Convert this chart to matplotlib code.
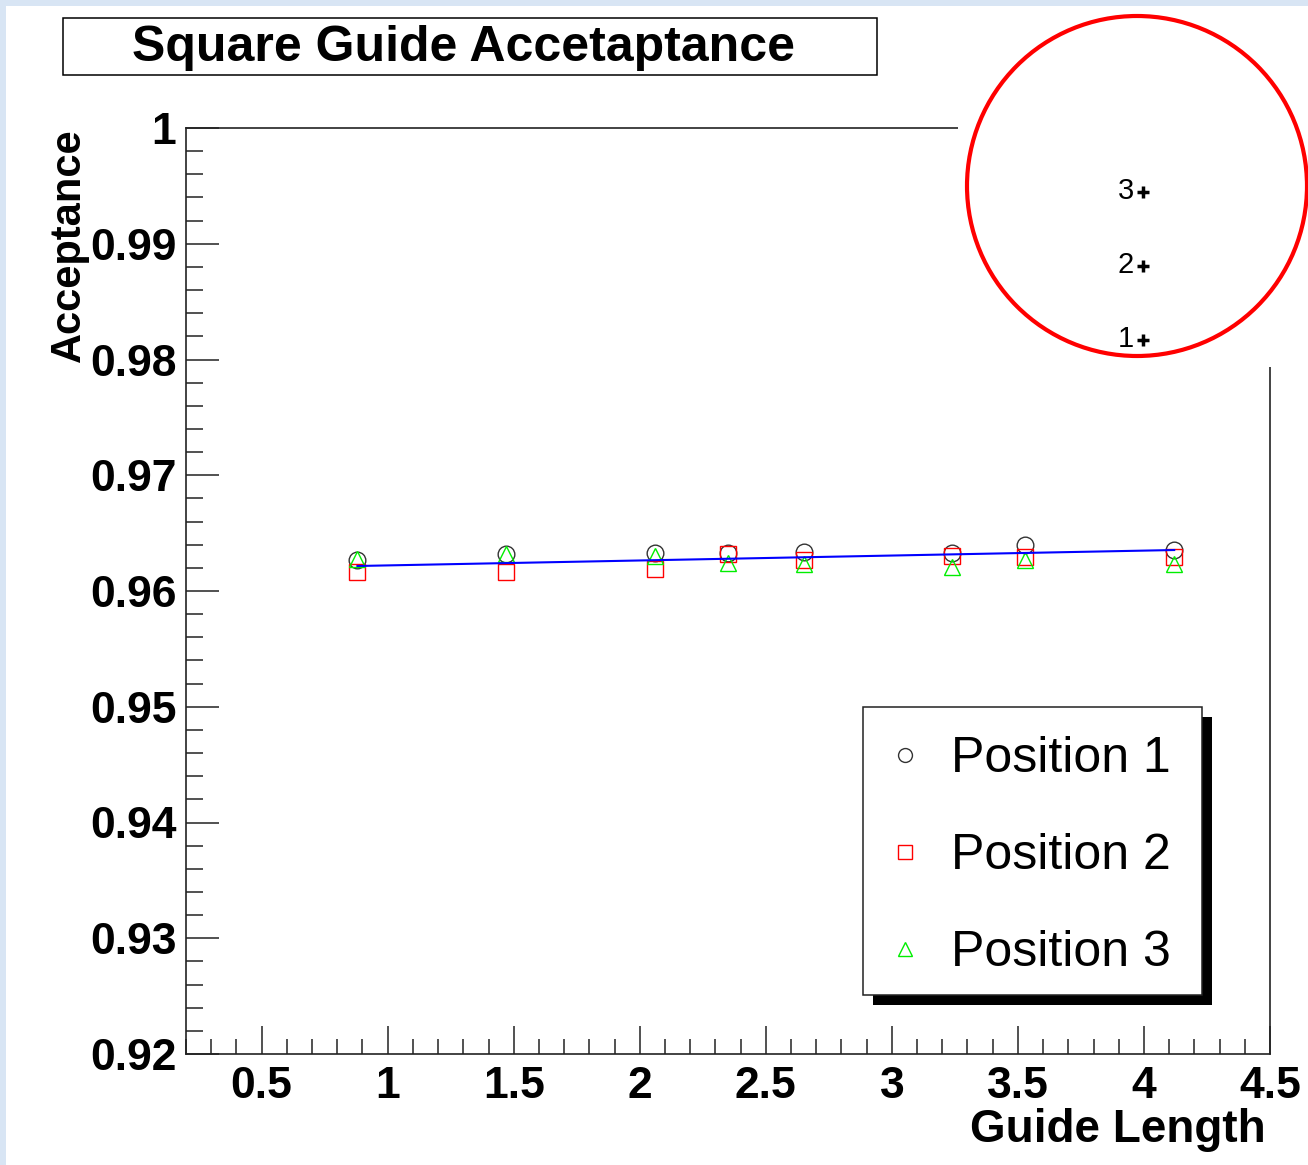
import matplotlib
matplotlib.use("Agg")
import matplotlib.pyplot as plt
from matplotlib.patches import Rectangle, Ellipse
from matplotlib.lines import Line2D
from matplotlib.ticker import MultipleLocator, FormatStrFormatter

plt.rcParams['font.family'] = ['Liberation Sans', 'DejaVu Sans']

# data
guide_length = [0.88, 1.47, 2.06, 2.35, 2.65, 3.24, 3.53, 4.12]
pos1 = [0.9627, 0.9632, 0.9633, 0.9633, 0.9634, 0.9633, 0.9640, 0.9635]
pos2 = [0.9616, 0.9616, 0.9619, 0.9632, 0.9627, 0.9630, 0.9629, 0.9629]
pos3 = [0.9628, 0.9632, 0.9630, 0.9624, 0.9623, 0.9621, 0.9627, 0.9623]
fit_x = [0.88, 4.12]
fit_y = [0.96216, 0.96354]
series_names = ["Position 1", "Position 2", "Position 3"]
inset_labels = ["3", "2", "1"]

W, H = 1308, 1165
fig = plt.figure(figsize=(W / 100, H / 100), dpi=100, facecolor='#d8e5f4')


def fx(x):
    return x / W


def fy(y):
    return 1 - y / H


# white canvas inside the light blue frame
fig.add_artist(Rectangle((fx(6), 0), 1, fy(6), transform=fig.transFigure,
                         facecolor='white', edgecolor='none', zorder=-10))

ax = fig.add_axes([fx(186), fy(1054), fx(1270) - fx(186), fy(128) - fy(1054)])
ax.set_xlim(0.2, 4.5)
ax.set_ylim(0.92, 1.0)

ax.plot(guide_length, pos1, 'o', ms=12, mfc='none', mec='#333333', mew=1.0)
ax.plot(guide_length, pos2, 's', ms=11, mfc='none', mec='#ff0000', mew=1.0)
ax.plot(guide_length, pos3, '^', ms=12, mfc='none', mec='#00ee00', mew=1.0)
ax.plot(fit_x, fit_y, '-', color='#0000ff', lw=1.5)

ax.xaxis.set_major_locator(MultipleLocator(0.5))
ax.xaxis.set_minor_locator(MultipleLocator(0.1))
ax.yaxis.set_major_locator(MultipleLocator(0.01))
ax.yaxis.set_minor_locator(MultipleLocator(0.002))
ax.xaxis.set_major_formatter(FormatStrFormatter('%g'))
ax.yaxis.set_major_formatter(FormatStrFormatter('%g'))
ax.tick_params(axis='both', which='both', direction='in', top=False, right=False,
               width=1.1, color='#222222')
ax.tick_params(axis='x', which='major', length=20, labelsize=32, pad=9)
ax.tick_params(axis='x', which='minor', length=10.5)
ax.tick_params(axis='y', which='major', length=24, labelsize=32, pad=7)
ax.tick_params(axis='y', which='minor', length=12)
for lab in ax.get_xticklabels() + ax.get_yticklabels():
    lab.set_fontweight('bold')
for s in ax.spines.values():
    s.set_linewidth(1.2)
    s.set_color('#222222')

fig.text(fx(69), fy(128), "Acceptance", rotation=90, ha='center', va='top',
         fontsize=30, fontweight='bold')
fig.text(fx(1266), fy(1142), "Guide Length", ha='right', va='baseline',
         fontsize=33, fontweight='bold')

# title box
fig.add_artist(Rectangle((fx(63), fy(75)), fx(877) - fx(63), fy(18) - fy(75),
                         transform=fig.transFigure, facecolor='white',
                         edgecolor='black', lw=1.1, zorder=5))
fig.text(fx(463), fy(48), "Square Guide Accetaptance", ha='center', va='center',
         fontsize=36, fontweight='bold', zorder=6)

# legend with shadow
fig.add_artist(Rectangle((fx(873), fy(1005)), fx(1212) - fx(873), fy(717) - fy(1005),
                         transform=fig.transFigure, facecolor='black',
                         edgecolor='none', zorder=5))
fig.add_artist(Rectangle((fx(863), fy(995)), fx(1202) - fx(863), fy(707) - fy(995),
                         transform=fig.transFigure, facecolor='white',
                         edgecolor='#222222', lw=1.1, zorder=5))
leg_styles = [('o', '#333333'), ('s', '#ff0000'), ('^', '#00ee00')]
for i, (name, (mk, col)) in enumerate(zip(series_names, leg_styles)):
    yy = 755 + i * 97
    fig.add_artist(Line2D([fx(905)], [fy(yy)], marker=mk, ms=10, mfc='none',
                          mec=col, mew=1.0, transform=fig.transFigure, zorder=6))
    fig.text(fx(951), fy(yy + 4), name, ha='left', va='center', fontsize=36, zorder=6)

# inset sketch of the positions
fig.add_artist(Rectangle((fx(958), fy(367)), 1, fy(6) - fy(367),
                         transform=fig.transFigure, facecolor='white',
                         edgecolor='none', zorder=5))
fig.add_artist(Ellipse((fx(1137), fy(186)), 2 * 170 / W, 2 * 170 / H,
                       transform=fig.transFigure, facecolor='none',
                       edgecolor='#ff0000', lw=3, zorder=6))
for i, lab in enumerate(inset_labels):
    yy = 191 + i * 74
    fig.text(fx(1134), fy(yy), lab, ha='right', va='center', fontsize=21, zorder=7)
    fig.add_artist(Line2D([fx(1143)], [fy(yy + 1)], marker='+', ms=8, mew=2.5,
                          color='black', transform=fig.transFigure, zorder=7))

fig.savefig("out.png", dpi=100, facecolor=fig.get_facecolor())
